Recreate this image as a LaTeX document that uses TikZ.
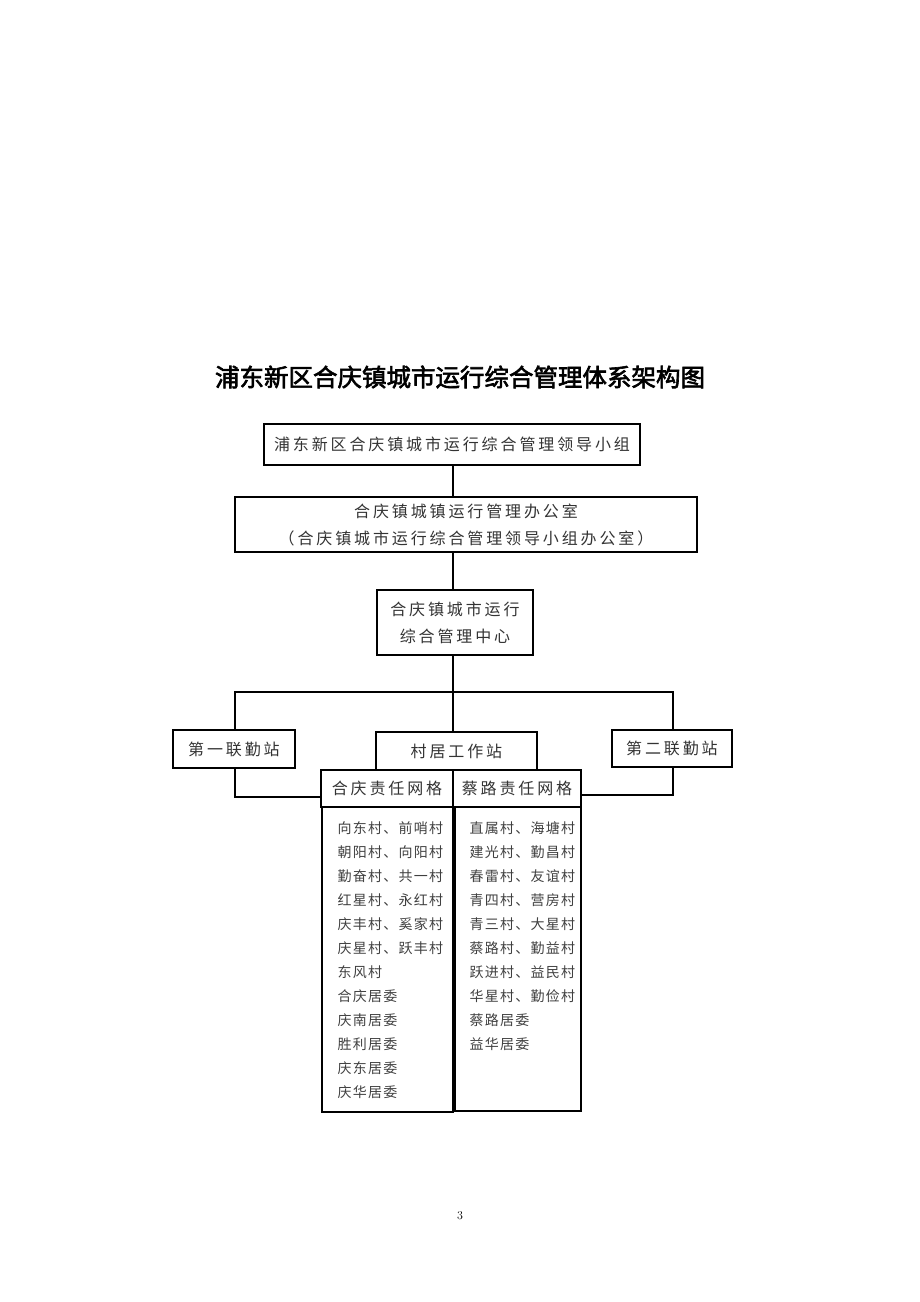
\documentclass[tikz,border=0pt]{standalone}
\usepackage{fontspec}
\newfontfamily\cjk[LetterSpace=18]{Noto Sans CJK SC}
\newfontfamily\cjkl[LetterSpace=9]{Noto Sans CJK SC}
\newfontfamily\cjkt[FakeBold=2.5]{Noto Sans CJK SC}
\begin{document}
\begin{tikzpicture}[x=1pt,y=-1pt,
  bx/.style={draw,line width=1.1pt,inner sep=0pt},
  lbl/.style={font=\cjk\fontsize{16}{27}\selectfont,text=black!80,align=center},
  item/.style={anchor=west,font=\cjkl\fontsize{14}{16}\selectfont,text=black!75},
  ln/.style={line width=1.1pt}]
\useasboundingbox (0,0) rectangle (920,1302);
\node[font=\cjkt\fontsize{24.5}{27}\selectfont] (title) at (460,377) {浦东新区合庆镇城市运行综合管理体系架构图};
\draw[bx] (264,424) rectangle (640,465); \node[lbl] (b1) at (452,444.5) {浦东新区合庆镇城市运行综合管理领导小组};
\draw[bx] (235,497) rectangle (697,552); \node[lbl] (b2) at (466,524.5) {合庆镇城镇运行管理办公室\\（合庆镇城市运行综合管理领导小组办公室）};
\draw[bx] (377,590) rectangle (533,655); \node[lbl] (b3) at (455,622.5) {合庆镇城市运行\\综合管理中心};
\draw[bx] (173,730) rectangle (295,768); \node[lbl] (s1) at (234,749) {第一联勤站};
\draw[bx] (376,732) rectangle (537,770); \node[lbl] (s0) at (456.5,751) {村居工作站};
\draw[bx] (612,730) rectangle (732,767); \node[lbl] (s2) at (672,748.5) {第二联勤站};
\draw[bx] (321,770) rectangle (453,807); \node[lbl] (g1) at (387,788.5) {合庆责任网格};
\draw[bx] (453,770) rectangle (581,807); \node[lbl] (g2) at (517,788.5) {蔡路责任网格};
\draw[bx] (322,807) rectangle (453,1112);
\draw[bx] (455,807) rectangle (581,1111);
\draw[ln] (453,465) -- (453,497);
\draw[ln] (453,552) -- (453,590);
\draw[ln] (453,655) -- (453,732);
\draw[ln] (235,730) -- (235,692) -- (673,692) -- (673,730);
\draw[ln] (235,768) -- (235,797) -- (321,797);
\draw[ln] (673,767) -- (673,795) -- (581,795);
\foreach \t [count=\i] in {向东村、前哨村,朝阳村、向阳村,勤奋村、共一村,红星村、永红村,庆丰村、奚家村,庆星村、跃丰村,东风村,合庆居委,庆南居委,胜利居委,庆东居委,庆华居委}
  \node[item] (l\i) at (334,{828+24*(\i-1)}) {\t};
\foreach \t [count=\i] in {直属村、海塘村,建光村、勤昌村,春雷村、友谊村,青四村、营房村,青三村、大星村,蔡路村、勤益村,跃进村、益民村,华星村、勤俭村,蔡路居委,益华居委}
  \node[item] (r\i) at (466,{828+24*(\i-1)}) {\t};
\node[font=\fontsize{12}{14}\selectfont] (pg) at (460,1216) {3};
\end{tikzpicture}
\end{document}
